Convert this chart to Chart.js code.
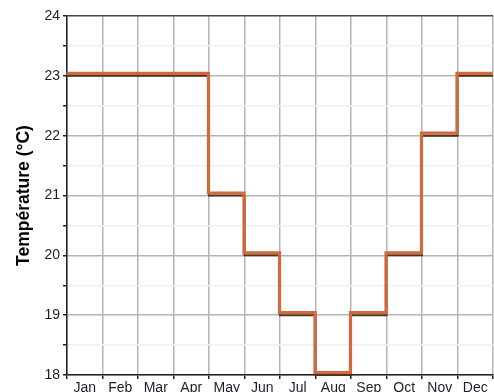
<!DOCTYPE html>
<html>
<head>
<meta charset="utf-8">
<script src="https://cdn.jsdelivr.net/npm/chart.js@4"></script>
<style>
  html, body { margin: 0; padding: 0; background: #fff; }
  #wrap { width: 494px; height: 392px; }
</style>
</head>
<body>
<div id="wrap"><canvas id="myChart"></canvas></div>
<script>
const months = ['Jan', 'Feb', 'Mar', 'Apr', 'May', 'Jun', 'Jul', 'Aug', 'Sep', 'Oct', 'Nov', 'Dec'];
const temps = [23, 23, 23, 23, 21, 20, 19, 18, 19, 20, 22, 23];
const yTicks = [18, 19, 20, 21, 22, 23, 24];

// each month covers [i, i+1] on a linear axis, last point closes December
const stepPoints = temps.map((t, i) => ({ x: i, y: t }));
stepPoints.push({ x: months.length, y: temps[temps.length - 1] });

// dataset 0 (orange) is drawn last, a little higher so the dark one shows under it
const shiftPlugin = {
  id: 'shift',
  beforeDatasetDraw(chart, args) {
    if (args.index === 0) {
      chart.ctx.save();
      chart.ctx.translate(-0.5, -2.5);
    }
  },
  afterDatasetDraw(chart, args) {
    if (args.index === 0) chart.ctx.restore();
  }
};

const config = {
  type: 'line',
  data: {
    datasets: [{
      data: stepPoints,
      borderColor: '#d2693c',
      borderWidth: 3.2,
      stepped: true,
      pointRadius: 0,
      fill: false,
      clip: false
    }, {
      data: stepPoints,
      borderColor: '#4b3421',
      borderWidth: 2,
      stepped: true,
      pointRadius: 0,
      fill: false,
      clip: false
    }]
  },
  options: {
    responsive: true,
    maintainAspectRatio: false,
    animation: false,
    layout: { padding: { top: 16, right: 0, left: 0, bottom: 0 } },
    plugins: {
      legend: { display: false },
      tooltip: { enabled: false }
    },
    scales: {
      x: {
        type: 'linear',
        min: 0,
        max: 12,
        afterBuildTicks: (scale) => {
          const t = [];
          for (let v = 0; v <= 12; v += 0.5) t.push({ value: v });
          scale.ticks = t;
        },
        afterFit: (scale) => { scale.height = 17; },
        ticks: {
          autoSkip: false,
          maxRotation: 0,
          padding: 1,
          color: '#1e1e28',
          font: { family: 'Liberation Sans, Arial', size: 14 },
          callback: (v) => (v % 1 === 0.5 ? months[Math.floor(v)] : '')
        },
        grid: {
          color: (c) => (c.tick && c.tick.value % 1 === 0 ? '#b4b4b4' : 'rgba(0,0,0,0)'),
          tickColor: (c) => (c.tick && c.tick.value % 1 === 0 ? '#222' : 'rgba(0,0,0,0)'),
          tickLength: 4,
          lineWidth: 1.5
        },
        border: { color: '#222', width: 1.5 }
      },
      y: {
        min: 18,
        max: 24,
        afterBuildTicks: (scale) => {
          const t = [];
          for (let v = 18; v <= 24; v += 0.5) t.push({ value: v });
          scale.ticks = t;
        },
        afterFit: (scale) => { scale.width = 67; },
        ticks: {
          autoSkip: false,
          padding: 3,
          color: '#1e1e28',
          font: { family: 'Liberation Sans, Arial', size: 14 },
          callback: (v) => (yTicks.includes(v) ? String(v) : '')
        },
        grid: {
          color: (c) => {
            if (!c.tick) return '#b4b4b4';
            if (c.tick.value === 24) return '#444';
            return c.tick.value % 1 === 0 ? '#b4b4b4' : '#f0f0f0';
          },
          lineWidth: 1.5,
          tickColor: '#222',
          tickLength: 4
        },
        border: { color: '#222', width: 1.5 },
        title: {
          display: true,
          text: 'Température (°C)',
          color: '#000',
          font: { family: 'Liberation Sans, Arial', size: 17.5, weight: 'bold' },
          padding: { top: 14, bottom: 0 }
        }
      }
    }
  },
  plugins: [shiftPlugin]
};

const ctx = document.getElementById('myChart').getContext('2d');
const chart = new Chart(ctx, config);
</script>
</body>
</html>
